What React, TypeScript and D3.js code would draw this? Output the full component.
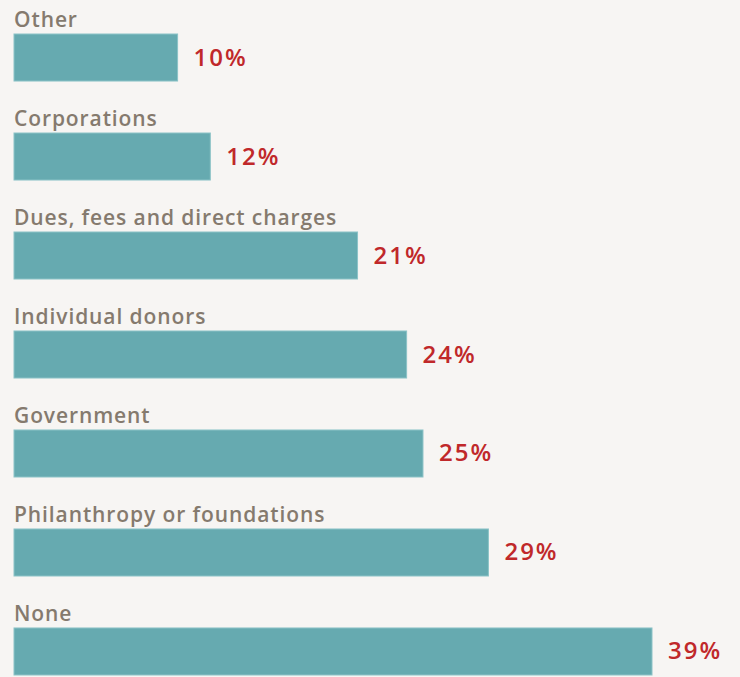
import React, { useRef, useEffect } from 'react';
import * as d3 from 'd3';

// funding sources (share of respondents, %)
const categories = [
  'Other',
  'Corporations',
  'Dues, fees and direct charges',
  'Individual donors',
  'Government',
  'Philanthropy or foundations',
  'None',
];
const values = [10, 12, 21, 24, 25, 29, 39];

export default function App() {
  const svgRef = useRef<SVGSVGElement>(null);

  useEffect(() => {
    const width = 740;
    const height = 677;
    const left = 14;

    const svg = d3.select(svgRef.current);
    svg.selectAll('*').remove();

    svg.append('rect').attr('width', width).attr('height', height).attr('fill', '#f7f5f3');

    const data = categories.map((c, i) => ({ label: c, value: values[i] }));

    const x = d3.scaleLinear().domain([0, 39]).range([0, 638]);
    const y = d3.scaleBand()
      .domain(categories)
      .range([34, 675])
      .paddingInner(0.525)
      .paddingOuter(0);

    const g = svg.append('g').attr('transform', `translate(${left},0)`);

    g.selectAll('.bar')
      .data(data)
      .enter()
      .append('rect')
      .attr('class', 'bar')
      .attr('x', 0)
      .attr('y', d => y(d.label)!)
      .attr('width', d => x(d.value))
      .attr('height', y.bandwidth())
      .attr('fill', '#66aab0')
      .attr('stroke', '#8cc3c7')
      .attr('stroke-width', 1);

    g.selectAll('.cat')
      .data(data)
      .enter()
      .append('text')
      .attr('class', 'cat')
      .attr('x', 0)
      .attr('y', d => y(d.label)! - 7)
      .attr('fill', '#857a6e')
      .style('font-family', "'Open Sans'")
      .style('font-weight', '600')
      .style('font-size', '21px')
      .style('letter-spacing', '0.9px')
      .text(d => d.label);

    g.selectAll('.val')
      .data(data)
      .enter()
      .append('text')
      .attr('class', 'val')
      .attr('x', d => x(d.value) + 16)
      .attr('y', d => y(d.label)! + y.bandwidth() / 2 + 8)
      .attr('fill', '#c0282a')
      .style('font-family', "'Open Sans'")
      .style('font-weight', '600')
      .style('font-size', '24px')
      .style('letter-spacing', '2px')
      .text(d => `${d.value}%`);
  }, []);

  return (
    <svg
      ref={svgRef}
      width={740}
      height={677}
      style={{ position: 'absolute', left: 0, top: 0, display: 'block' }}
    />
  );
}
